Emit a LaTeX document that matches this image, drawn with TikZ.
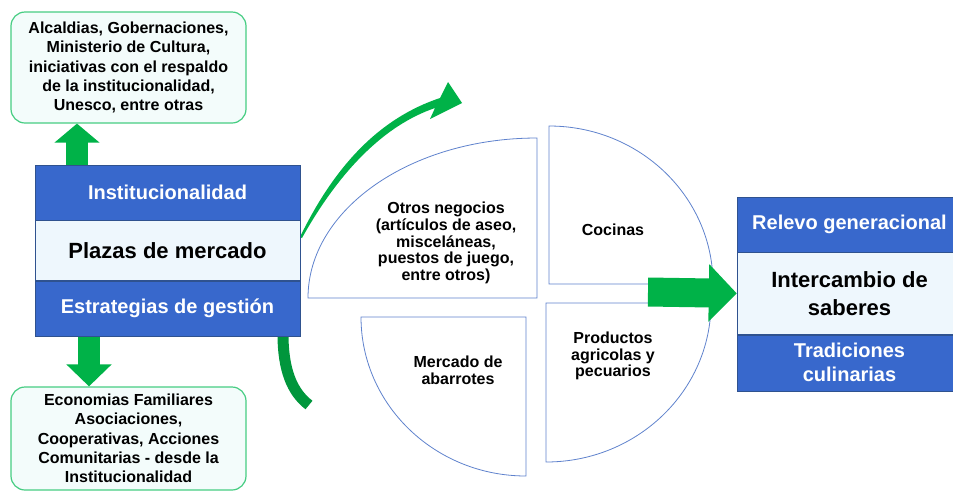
\documentclass[tikz,border=0pt]{standalone}
\usepackage{fontspec}
\setmainfont{Liberation Sans}
\usetikzlibrary{arrows.meta,positioning}

\definecolor{band}{RGB}{56,104,204}
\definecolor{bandline}{RGB}{47,82,143}
\definecolor{pale}{RGB}{238,247,253}
\definecolor{boxline}{RGB}{70,205,130}
\definecolor{boxfill}{RGB}{243,252,251}
\definecolor{arrowgreen}{RGB}{0,178,72}
\definecolor{darkgreen}{RGB}{0,150,60}
\definecolor{wedgeline}{RGB}{95,130,205}

\begin{document}
\begin{tikzpicture}[x=1pt,y=-1pt,
    band/.style={draw=bandline,fill=band,text=white,inner sep=0pt,align=center,
      font=\bfseries\fontsize{20}{24}\selectfont},
    core/.style={draw=bandline,fill=pale,inner sep=0pt,align=center,
      font=\bfseries\fontsize{22}{28}\selectfont},
    note/.style={draw=boxline,line width=1.2pt,fill=boxfill,rounded corners=14pt,
      minimum width=235pt,inner sep=0pt,align=center,
      font=\bfseries\fontsize{16}{19.3}\selectfont},
    wedge/.style={draw=wedgeline,line width=0.8pt,fill=white},
    wtext/.style={align=center,font=\bfseries\fontsize{16}{16.8}\selectfont},
    bigarrow/.style={draw=arrowgreen,fill=arrowgreen}]
   \useasboundingbox (0,0) rectangle (953,491);

   % boxes round the left stack
   \node[note, minimum height=111pt] (topbox) at (128.5,67.5)
        {Alcaldias, Gobernaciones,\\ Ministerio de Cultura,\\ iniciativas con el respaldo\\
         de la institucionalidad,\\ Unesco, entre otras};
   \node[note, minimum height=103pt] (botbox) at (128.5,438.5)
        {Economias Familiares\\ Asociaciones,\\ Cooperativas, Acciones\\
         Comunitarias - desde la\\ Institucionalidad};

   \coordinate (upfoot) at (77,166);
   \coordinate (downfoot) at (89,334);
   \draw[bigarrow, line width=22pt, -{Triangle[width=44pt,length=19pt]}]
        (upfoot) -- (upfoot |- topbox.south);
   \draw[bigarrow, line width=22pt, -{Triangle[width=44pt,length=22pt]}]
        (downfoot) -- (downfoot |- botbox.north);

   % curved green strokes
   \fill[arrowgreen] (300,237) .. controls (335,165) and (380,118) .. (440,98)
        -- (448,82) -- (462,103) -- (430,119) -- (435,108)
        .. controls (385,125) and (340,170) .. (302,238) -- cycle;
   \draw[darkgreen, line width=11pt] (283,334) .. controls (283,370) and (292,392) .. (309,405);

   % left stack
   \node[band, minimum width=265pt, minimum height=55pt] (inst) at (167.5,192.5) {Institucionalidad};
   \node[core, minimum width=265pt, minimum height=60pt, below=0pt of inst] (plaza) {Plazas de mercado};
   \node[band, minimum width=265pt, minimum height=55pt, below=0pt of plaza] (estr) {Estrategias de gestión};

   % quarter wedges
   \draw[wedge] (537,298) -- (308,298) .. controls (308,209.6) and (410.5,138) .. (537,138) -- cycle;
   \draw[wedge] (549,284) -- (549,126) .. controls (639.6,126) and (713,196.7) .. (713,284) -- cycle;
   \draw[wedge] (546,303) -- (711,303) .. controls (711,390.8) and (637.1,462) .. (546,462) -- cycle;
   \draw[wedge] (526,317) -- (361,317) .. controls (361,404.8) and (434.9,476) .. (526,476) -- cycle;
   \node[wtext] (otros) at (446,243) {Otros negocios\\ (artículos de aseo,\\ misceláneas,\\ puestos de juego,\\ entre otros)};
   \node[wtext] (cocinas) at (613,230) {Cocinas};
   \node[wtext] (productos) at (613,356) {Productos\\ agricolas y\\ pecuarios};
   \node[wtext] (abarrotes) at (458,370) {Mercado de\\ abarrotes};

   % right stack
   \node[band, minimum width=225pt, minimum height=55pt] (relevo) at (849.5,224.5) {Relevo generacional};
   \node[core, minimum width=225pt, minimum height=82pt, below=0pt of relevo] (saberes) {Intercambio de\\ saberes};
   \node[band, minimum width=225pt, minimum height=56pt, below=0pt of saberes] (trad) {Tradiciones\\ culinarias};

   \coordinate (rightfoot) at (648,292);
   \draw[bigarrow, line width=29pt, -{Triangle[width=56pt,length=28pt]}]
        (rightfoot) -- (saberes.west);
\end{tikzpicture}
\end{document}
